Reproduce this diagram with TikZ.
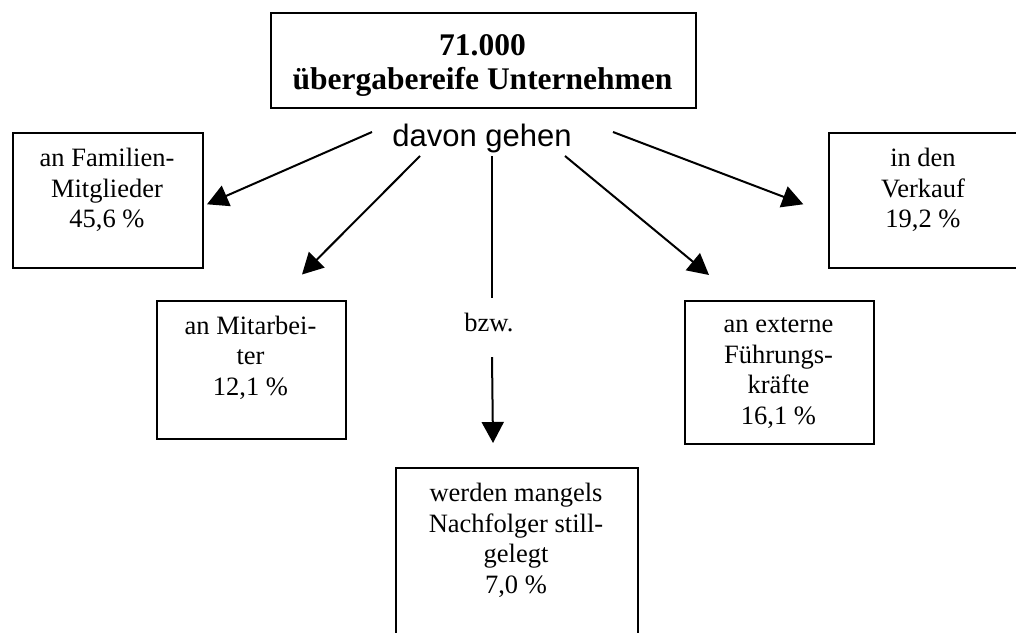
\documentclass[tikz,border=0pt]{standalone}
\usepackage{fontspec}
\setmainfont{Liberation Serif}
\newfontfamily\arialfont{Liberation Sans}
\usetikzlibrary{arrows.meta}
\begin{document}
\begin{tikzpicture}[x=1pt,y=-1pt,
  box/.style={draw, line width=2pt, inner sep=0pt, anchor=north west},
  txt/.style={inner sep=0pt, anchor=north, align=center,
              font=\fontsize{26.5}{30.5}\selectfont},
  conn/.style={line width=2pt, -{Triangle[length=21pt,width=22pt]}},
  plain/.style={line width=2pt}]
\path[use as bounding box] (0,0) rectangle (1016,632);
\clip (0,0) rectangle (1016,632);

% head box
\node[box, minimum width=425pt, minimum height=95pt] (top) at (270,12) {};
\node[inner sep=0pt, anchor=north, align=center,
      font=\bfseries\fontsize{31.5}{34.3}\selectfont] (topTxt) at (482.5,31)
  {\strut 71.000\\übergabereife Unternehmen};

\node[inner sep=0pt, anchor=base, font=\arialfont\fontsize{31}{36}\selectfont]
  (davon) at (482,146) {davon gehen};

% target boxes
\node[box, minimum width=190pt, minimum height=135pt] (fam) at (12,132) {};
\node[txt] (famTxt) at (107,145.35) {\strut an Familien-\\Mitglieder\\45,6 \%};

\node[box, minimum width=190pt, minimum height=135pt] (ver) at (828,132) {};
\node[txt] (verTxt) at (923,145.35) {\strut in den\\Verkauf\\19,2 \%};

\node[box, minimum width=189pt, minimum height=138pt] (mit) at (156,300) {};
\node[txt] (mitTxt) at (250.5,312.65) {\strut an Mitarbei-\\ter\\12,1 \%};

\node[box, minimum width=189pt, minimum height=143pt] (ext) at (684,300) {};
\node[txt] (extTxt) at (778.5,311.35) {\strut an externe\\Führungs-\\kräfte\\16,1 \%};

\node[box, minimum width=242pt, minimum height=180pt] (still) at (395,467) {};
\node[txt] (stillTxt) at (516,480.35)
  {\strut werden mangels\\Nachfolger still-\\gelegt\\7,0 \%};

% label on the vertical connector
\node[inner sep=0pt, anchor=base, text height=18pt, text depth=9.6pt,
      minimum height=59pt, font=\fontsize{26.5}{30.5}\selectfont]
  (bzw) at (489,331.7) {bzw.};

% start points of the connectors
\coordinate (sFam) at (372,132);
\coordinate (sMit) at (420,156);
\coordinate (sMid) at (492,156);
\coordinate (sExt) at (565,156);
\coordinate (sVer) at (613,132);

\draw[conn] (sFam) -- ([shift={(3,3.8)}]fam.east);
\draw[conn] (sMit) -- ([shift={(50.5,-25.5)}]mit.north);
\draw[plain] (sMid) -- (bzw.north -| sMid);
\draw[conn] (bzw.south -| sMid) -- ([shift={(-24,-24)}]still.north);
\draw[conn] (sExt) -- ([shift={(-70.5,-25)}]ext.north);
\draw[conn] (sVer) -- ([shift={(-24.7,3.8)}]ver.west);
\end{tikzpicture}
\end{document}
